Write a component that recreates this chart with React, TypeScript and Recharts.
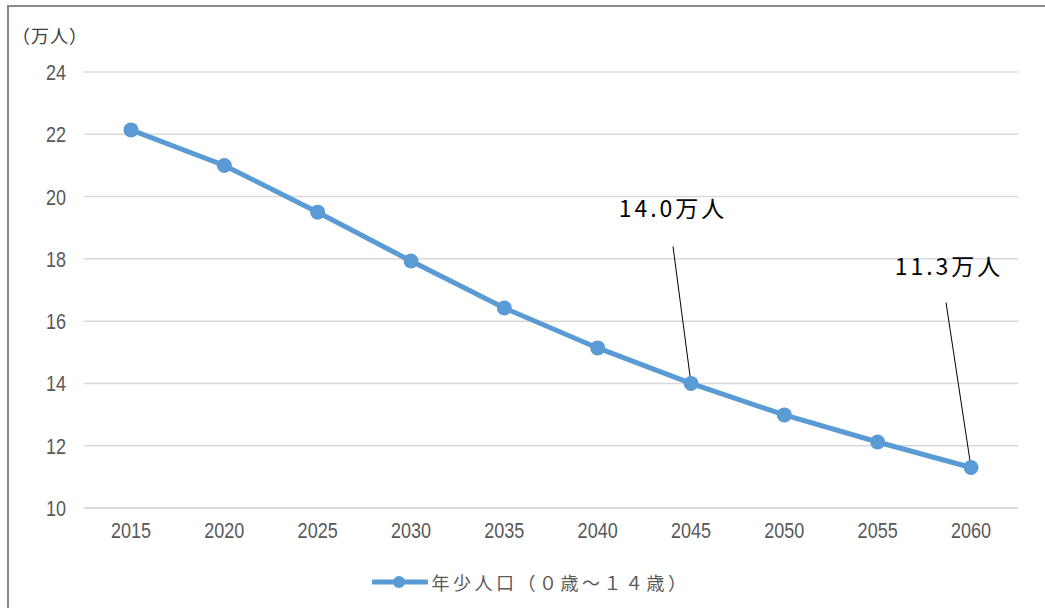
import React from 'react';
import { LineChart, Line, XAxis, YAxis, CartesianGrid, Legend, ReferenceDot } from 'recharts';

const years = ['2015', '2020', '2025', '2030', '2035', '2040', '2045', '2050', '2055', '2060'];
const population = [22.14, 21.0, 19.5, 17.93, 16.42, 15.14, 14.0, 12.99, 12.12, 11.3];
const yTicks = [10, 12, 14, 16, 18, 20, 22, 24];
const seriesName = '年少人口（０歳～１４歳）';
const unitLabel = '（万人）';
const annotationYears = ['2045', '2060'];
const annotationValues = [14.0, 11.3];
const annotationLabels = ['14.0万人', '11.3万人'];

const data = years.map((y, i) => ({ year: y, value: population[i] }));

const BLUE = '#5B9BD5';
const TICK = '#595959';
const NUM_FONT = "'Liberation Sans', Arial, sans-serif";
const JP_FONT = "'Noto Sans CJK JP', 'Noto Sans', sans-serif";

// callout offsets (pixels, relative to the annotated point)
const calloutOffsets = [
  { lx: -18, ly: -137, tx: -18, ty: -166 },
  { lx: -25, ly: -165, tx: -22, ty: -193 },
];

const makeCallout = (idx: number) => (props: any) => {
  const { cx, cy } = props;
  const o = calloutOffsets[idx];
  return (
    <g>
      <line x1={cx} y1={cy} x2={cx + o.lx} y2={cy + o.ly} stroke="#000" strokeWidth={1} />
      <text
        x={cx + o.tx}
        y={cy + o.ty}
        textAnchor="middle"
        fontFamily={JP_FONT}
        fontSize={23}
        fill="#000"
        letterSpacing={3}
      >
        {annotationLabels[idx]}
      </text>
    </g>
  );
};

const NarrowTick = (props: any) => {
  const { x, y, payload, anchor, dyv } = props;
  return (
    <text
      transform={`translate(${x},${y}) scale(0.82,1)`}
      textAnchor={anchor}
      dy={dyv}
      fontFamily={NUM_FONT}
      fontSize={22}
      fill={TICK}
    >
      {payload.value}
    </text>
  );
};

const XTick = (props: any) => <NarrowTick {...props} anchor="middle" dyv={16} />;
const YTick = (props: any) => <NarrowTick {...props} anchor="end" dyv={8} />;

const LegendContent = () => (
  <div
    style={{
      display: 'flex',
      justifyContent: 'center',
      alignItems: 'center',
      height: 24,
      fontFamily: JP_FONT,
      fontSize: 18,
      color: TICK,
    }}
  >
    <svg width={56} height={16} style={{ display: 'block' }}>
      <line x1={0} y1={8} x2={56} y2={8} stroke={BLUE} strokeWidth={5} />
      <circle cx={27} cy={8} r={6} fill={BLUE} />
    </svg>
    <span style={{ marginLeft: 4, letterSpacing: 3.5 }}>{seriesName}</span>
  </div>
);

const UnitLabel = (props: any) => {
  const vb = props.viewBox || { x: 0, y: 72 };
  return (
    <text x={vb.x + 12} y={vb.y - 29} fontFamily={JP_FONT} fontSize={18} fill="#404040" letterSpacing={1}>
      {unitLabel}
    </text>
  );
};

export default function App() {
  return (
    <div style={{ position: 'fixed', left: 0, top: 0, width: 1045, height: 608, overflow: 'hidden', background: '#fff' }}>
      <div
        style={{
          position: 'absolute',
          left: 7,
          top: 5,
          width: 1200,
          height: 800,
          border: '2px solid #8a8a8a',
          boxSizing: 'border-box',
        }}
      />
      <div style={{ position: 'absolute', left: 0, top: 0 }}>
        <LineChart width={1045} height={608} data={data} margin={{ top: 72, right: 27, bottom: 14, left: 0 }}>
          <CartesianGrid vertical={false} stroke="#d9d9d9" strokeWidth={1.5} />
          <XAxis
            dataKey="year"
            height={62}
            padding={{ left: 47, right: 47 }}
            tickLine={false}
            tickSize={0}
            tickMargin={14}
            axisLine={{ stroke: '#d9d9d9', strokeWidth: 1.5 }}
            tick={<XTick />}
          />
          <YAxis
            width={84}
            domain={[10, 24]}
            ticks={yTicks}
            interval={0}
            tickLine={false}
            tickSize={0}
            tickMargin={18}
            axisLine={false}
            tick={<YTick />}
            label={<UnitLabel />}
          />
          <Legend
            verticalAlign="bottom"
            content={<LegendContent />}
            wrapperStyle={{ left: 8, width: 1045 }}
          />
          <Line
            type="linear"
            dataKey="value"
            name={seriesName}
            stroke={BLUE}
            strokeWidth={5}
            dot={{ r: 7.5, fill: BLUE, stroke: BLUE, strokeWidth: 0 }}
            activeDot={false}
            isAnimationActive={false}
          />
          {annotationYears.map((y, i) => (
            <ReferenceDot
              key={y}
              x={y}
              y={annotationValues[i]}
              r={0}
              shape={makeCallout(i)}
              ifOverflow="visible"
            />
          ))}
        </LineChart>
      </div>
    </div>
  );
}
